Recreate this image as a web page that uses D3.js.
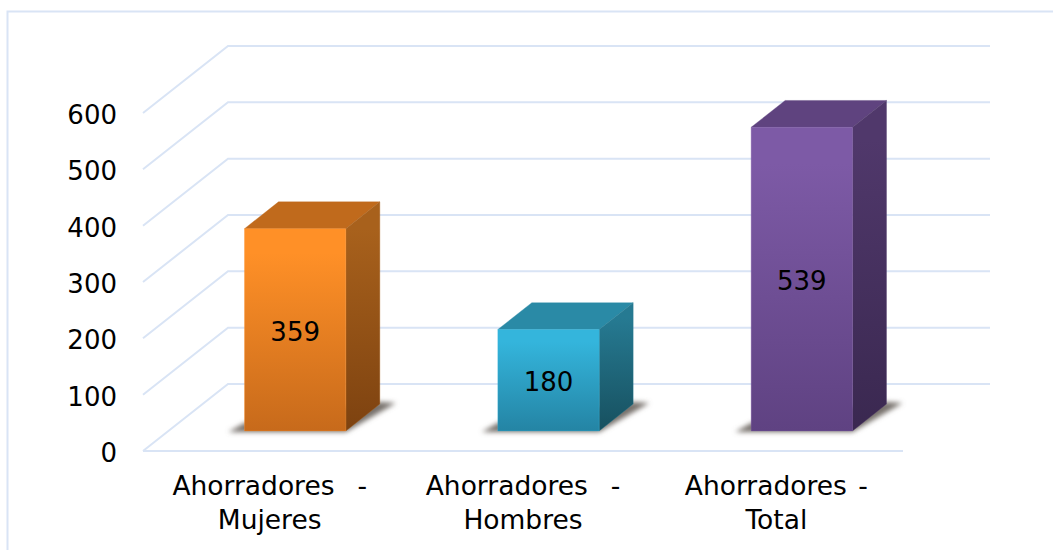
<!DOCTYPE html>
<html>
<head>
<meta charset="utf-8">
<script src="https://cdn.jsdelivr.net/npm/d3@7"></script>
<style>
    html, body { margin: 0; padding: 0; background: #fff; overflow: hidden; }
    text { font-family: "DejaVu Sans", sans-serif; fill: #000; white-space: pre; }
</style>
</head>
<body>
<svg id="chart" width="1053" height="550"></svg>
<script>
// the title is cropped off the top of the source image and cannot be read, so it is left out
const categories = ['Ahorradores  -\nMujeres', 'Ahorradores  -\nHombres', 'Ahorradores -\nTotal'];
const values = [359, 180, 539];
const yTicks = [0, 100, 200, 300, 400, 500, 600];

// front, front bottom, top face, side top, side bottom
const palette = [
    ['#ff9027', '#c76a1b', '#c06a1c', '#a8611c', '#7d4210'],
    ['#34b5dc', '#2484a4', '#2a8aa6', '#267a92', '#17505f'],
    ['#7d5aa6', '#5f4282', '#5f437f', '#50386b', '#3a2850']
];

const svg = d3.select('#chart');
const defs = svg.append('defs');

const gridColor = '#d9e4f5',
    fontSize = 26,
    depthX = 85, depthY = 67, // how far the back wall sits from the front of the floor
    barFront = 0.3, barBack = 0.7; // bar position inside that depth, 0 front, 1 back

const x = d3.scaleBand().domain(categories).range([143, 903]).paddingInner(0.6).paddingOuter(0.3);
const y = d3.scaleLinear().domain([0, 600]).range([451, 113]);

// a point on the floor/wall grid at depth t
const project = (px, v, t) => [px + depthX * t, y(v) - depthY * t];
const toPoints = pts => pts.map(p => p.join(',')).join(' ');

// panel border, runs off the right and bottom of the image
svg.append('path')
    .attr('d', 'M7.5,550V11.5H1053')
    .attr('fill', 'none').attr('stroke', gridColor).attr('stroke-width', 2);

// gridlines
const line = d3.line();
const [x0, x1] = x.range();
const grid = svg.append('g').attr('fill', 'none').attr('stroke', gridColor).attr('stroke-width', 2);
yTicks.forEach(v => {
    grid.append('path').attr('d', line([project(x0, v, 0), project(x0, v, 1), project(x1 + 2, v, 1)]));
});
grid.append('path').attr('d', line([project(x0, 0, 0), project(x1, 0, 0)]));

// y labels
const yAxis = svg.append('g')
    .attr('transform', 'translate(117,0)')
    .call(d3.axisLeft(y).tickValues(yTicks).tickSize(0).tickPadding(0));
yAxis.select('.domain').remove();
yAxis.selectAll('text').attr('font-size', fontSize).attr('font-family', null).attr('dy', '0.4em');

// category labels
const labels = svg.append('g').attr('text-anchor', 'middle').attr('font-size', 26.5).attr('word-spacing', 3);
categories.forEach(c => {
    const cx = x(c) + x.bandwidth() / 2;
    c.split('\n').forEach((s, i) => {
        labels.append('text').attr('x', cx).attr('y', 495 + i * 34).text(s);
    });
});

const blur = defs.append('filter').attr('id', 'shadow-blur')
    .attr('x', '-20%').attr('y', '-50%').attr('width', '140%').attr('height', '200%');
blur.append('feGaussianBlur').attr('stdDeviation', 2.6);

function addGradient(id, from, to) {
    const g = defs.append('linearGradient').attr('id', id)
        .attr('x1', '0%').attr('y1', '0%').attr('x2', '0%').attr('y2', '100%');
    g.append('stop').attr('offset', '0%').attr('stop-color', from);
    g.append('stop').attr('offset', '12%').attr('stop-color', from);
    g.append('stop').attr('offset', '100%').attr('stop-color', to);
}

// bars
categories.forEach((c, i) => {
    const v = values[i], col = palette[i];
    const left = x(c), right = left + x.bandwidth();
    addGradient('front' + i, col[0], col[1]);
    addGradient('side' + i, col[3], col[4]);

    const fl0 = project(left, 0, barFront), fr0 = project(right, 0, barFront),
        br0 = project(right, 0, barBack),
        flv = project(left, v, barFront), frv = project(right, v, barFront),
        blv = project(left, v, barBack), brv = project(right, v, barBack);

    const bar = svg.append('g');
    // shadow on the floor
    bar.append('polygon')
        .attr('points', toPoints([
            [fl0[0] - 16, fl0[1] + 1], [fr0[0], fr0[1] + 1],
            [br0[0] + 16, br0[1] - 1], [br0[0], br0[1] - 2], [fl0[0], fl0[1] - 8]
        ]))
        .attr('fill', '#77716c').attr('filter', 'url(#shadow-blur)');
    // top face
    bar.append('polygon').attr('points', toPoints([flv, frv, brv, blv]))
        .attr('fill', col[2]).attr('stroke', col[2]).attr('stroke-opacity', 0.35);
    // side face
    bar.append('polygon').attr('points', toPoints([frv, brv, br0, fr0]))
        .attr('fill', `url(#side${i})`).attr('stroke', col[3]).attr('stroke-opacity', 0.35);
    // front face
    bar.append('polygon').attr('points', toPoints([flv, frv, fr0, fl0]))
        .attr('fill', `url(#front${i})`).attr('stroke', col[0]).attr('stroke-opacity', 0.35);

    // value label
    bar.append('text')
        .attr('x', (fl0[0] + fr0[0]) / 2)
        .attr('y', (flv[1] + fl0[1]) / 2)
        .attr('dy', '0.42em')
        .attr('text-anchor', 'middle')
        .attr('font-size', fontSize)
        .text(v);
});
</script>
</body>
</html>
